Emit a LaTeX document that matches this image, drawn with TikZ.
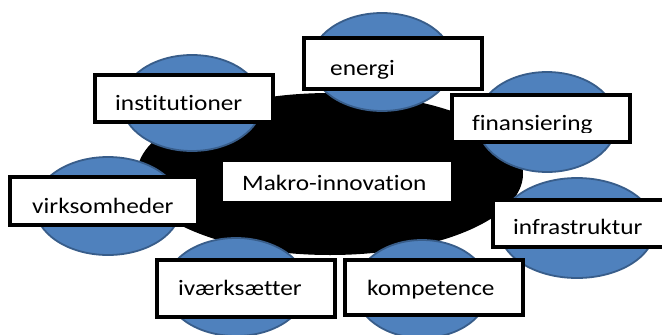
\documentclass[tikz,border=0pt]{standalone}
\usepackage{fontspec}
\setmainfont[FakeStretch=1.15,Ligatures=NoCommon]{Carlito}
\usetikzlibrary{shapes.geometric}
\definecolor{bluefill}{HTML}{4F81BD}
\definecolor{blueline}{HTML}{385D8A}
\tikzset{
  bluebub/.style={ellipse, draw=blueline, line width=1.8pt, fill=bluefill, inner sep=0pt},
  labelbox/.style={rectangle, draw=black, line width=3.6pt, fill=white, inner sep=0pt},
  labeltext/.style={anchor=base west, inner sep=0pt, font=\fontsize{22}{26}\selectfont, text=black},
}
\begin{document}
\begin{tikzpicture}[x=1pt,y=-1pt]
\useasboundingbox (0,0) rectangle (662,335);
\fill[white] (0,0) rectangle (662,335);
% central black ellipse
\node[ellipse, fill=black, minimum width=386pt, minimum height=162pt, inner sep=0pt] (core) at (330,174) {};
% blue bubbles
\node[bluebub, minimum width=142pt, minimum height=98pt] (eB) at (382,62) {};
\node[bluebub, minimum width=140pt, minimum height=100pt] (fB) at (547,122) {};
\node[bluebub, minimum width=156pt, minimum height=100pt] (inB) at (577,228) {};
\node[bluebub, minimum width=134pt, minimum height=98pt] (kB) at (422,289) {};
\node[bluebub, minimum width=142pt, minimum height=98pt] (iB) at (236,287) {};
\node[bluebub, minimum width=146pt, minimum height=98pt] (vB) at (108,206) {};
\node[bluebub, minimum width=140pt, minimum height=96pt] (isB) at (192,103) {};
% central box
\node[rectangle, fill=white, inner sep=0pt, minimum width=228pt, minimum height=39pt] (mBox) at (337,181.5) {};
\node[labeltext] (mT) at (242,190) {Makro-innovation};
% label boxes
\node[labelbox, minimum width=178pt, minimum height=51pt] (eBox) at (393,63.5) {};
\node[labeltext] (eT) at (330,75) {energi};
\node[labelbox, minimum width=178pt, minimum height=47pt] (fBox) at (541,118.5) {};
\begin{scope}
\clip (452,95) rectangle (630,132);
\node[labeltext] (fT) at (472,130.5) {finansiering};
\end{scope}
\node[labelbox, minimum width=172pt, minimum height=47pt] (inBox) at (579,223.5) {};
\node[labeltext] (inT) at (513,234) {infrastruktur};
\node[labelbox, minimum width=178pt, minimum height=55pt] (kBox) at (434,287.5) {};
\node[labeltext] (kT) at (367,295) {kompetence};
\node[labelbox, minimum width=178pt, minimum height=57pt] (iBox) at (246,288.5) {};
\node[labeltext] (iT) at (178,295) {iværksætter};
\node[labelbox, minimum width=188pt, minimum height=48pt] (vBox) at (104,201) {};
\node[labeltext] (vT) at (32,213) {virksomheder};
\node[labelbox, minimum width=178pt, minimum height=47pt] (isBox) at (184,98.5) {};
\node[labeltext] (isT) at (115,110) {institutioner};
\end{tikzpicture}
\end{document}
